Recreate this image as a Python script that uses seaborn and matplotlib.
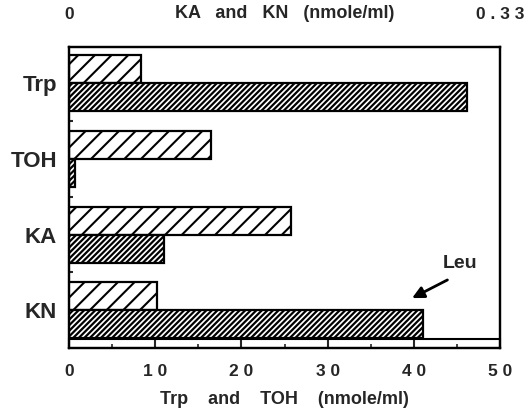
import matplotlib
matplotlib.use("Agg")
import matplotlib.pyplot as plt
import pandas as pd
import seaborn as sns
from matplotlib.ticker import FixedLocator, MultipleLocator

# Plasma levels, control vs. leucine-treated
analytes = ["Trp", "TOH", "KA", "KN"]
groups = ["Control", "Leu"]
control_values = [8.3, 16.5, 0.170, 0.067]
leu_values = [46.2, 0.7, 0.073, 0.271]

# Trp/TOH read on the bottom scale, KA/KN on the top scale
bottom_scale = ["Trp", "TOH"]
top_scale = ["KA", "KN"]

bottom_ticks = [0, 10, 20, 30, 40, 50]
bottom_ticklabels = ["0", "1 0", "2 0", "3 0", "4 0", "5 0"]
top_ticks = [0, 0.33]
top_ticklabels = ["0", "0 . 3 3"]

df = pd.DataFrame({
    "analyte": analytes * 2,
    "group": ["Control"] * len(analytes) + ["Leu"] * len(analytes),
    "value": control_values + leu_values,
})

sns.set_style("ticks")
plt.rcParams["font.family"] = ["Liberation Sans", "DejaVu Sans"]
plt.rcParams["font.weight"] = "bold"
plt.rcParams["hatch.linewidth"] = 1.5
plt.rcParams["hatch.color"] = "black"

fig = plt.figure(figsize=(5.29, 4.12), dpi=100)
ax = fig.add_axes([69 / 529, 64 / 412, 431 / 529, 301.5 / 412])
ax2 = ax.twiny()
ax2.patch.set_visible(False)

hatches = {"Control": "//", "Leu": "//////"}
hatch_widths = {"Control": 1.5, "Leu": 1.6}


def draw_bars(target, subset):
    sns.barplot(
        data=df[df["analyte"].isin(subset)], x="value", y="analyte",
        hue="group", order=analytes, hue_order=groups, orient="h",
        width=0.74, dodge=True, palette=["white", "white"], saturation=1,
        edgecolor="black", linewidth=1.6, errorbar=None, legend=False,
        ax=target,
    )
    for bar in target.patches:
        center = bar.get_y() + bar.get_height() / 2
        g = "Control" if center < round(center) else "Leu"
        bar.set_hatch(hatches[g])
        if hasattr(bar, "set_hatch_linewidth"):
            bar.set_hatch_linewidth(hatch_widths[g])


draw_bars(ax, bottom_scale)
draw_bars(ax2, top_scale)

# Bottom axis: Trp and TOH
ax.set_xlim(0, 50)
ax.xaxis.set_major_locator(FixedLocator(bottom_ticks))
ax.set_xticklabels(bottom_ticklabels)
ax.xaxis.set_minor_locator(MultipleLocator(5))
ax.tick_params(axis="x", which="major", direction="in", length=7, width=1.5,
               pad=11.5, labelsize=12.5, bottom=True, top=False)
ax.tick_params(axis="x", which="minor", direction="in", length=3, width=1.2,
               bottom=True, top=False)
ax.set_xlabel("Trp    and    TOH    (nmole/ml)", fontsize=13, fontweight="bold")
ax.xaxis.set_label_coords(0.5, -0.1426)

# Category axis
ax.set_ylim(3.5, -0.487)
ax.set_yticks(range(len(analytes)))
ax.set_yticklabels(analytes)
ax.yaxis.set_minor_locator(FixedLocator([0.5, 1.5, 2.5]))
ax.tick_params(axis="y", which="major", length=0, pad=8.6, labelsize=16)
ax.tick_params(axis="y", which="minor", direction="in", length=3, width=1.5,
               left=True, right=False)
ax.set_ylabel("")
ax.axhline(3.381, color="black", lw=1.5)

# Top axis: KA and KN
ax2.set_xlim(0, 0.33)
ax2.set_xticks(top_ticks)
ax2.set_xticklabels(top_ticklabels)
ax2.tick_params(axis="x", which="both", length=0, pad=18, labelsize=12.5)
ax2.set_xlabel("KA   and   KN   (nmole/ml)", fontsize=13, fontweight="bold")
ax2.xaxis.set_label_coords(0.5, 1.0945)

for a in (ax, ax2):
    for s in a.spines.values():
        s.set_visible(True)
        s.set_color("black")
        s.set_linewidth(1.6)
    a.grid(False)

# Leucine arrow
ax.annotate("", xy=(39.8, 2.84), xytext=(43.9, 2.60),
            arrowprops=dict(arrowstyle="-|>,head_length=0.7,head_width=0.35",
                            color="black", lw=2.0, shrinkA=0, shrinkB=0))
ax.text(45.4, 2.38, "Leu", fontsize=14, fontweight="bold",
        ha="center", va="center")

fig.savefig("out.png", dpi=100)
